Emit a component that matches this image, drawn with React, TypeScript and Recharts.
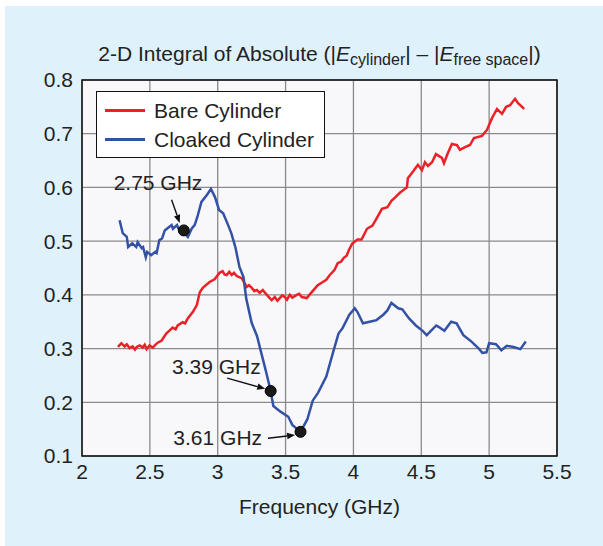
import React from 'react';
import {
  LineChart, Line, XAxis, YAxis, CartesianGrid, ReferenceArea,
  ReferenceDot, ReferenceLine, Legend,
} from 'recharts';

const bareFreq = [
  2.265, 2.29, 2.314, 2.33, 2.351, 2.373, 2.39, 2.403, 2.425, 2.447, 2.462, 2.476, 2.498, 2.521, 2.54,
  2.558, 2.587, 2.605, 2.624, 2.646, 2.668, 2.69, 2.705, 2.742, 2.76, 2.779, 2.816, 2.846, 2.868,
  2.89, 2.94, 2.977, 3.014, 3.036, 3.05, 3.066, 3.085, 3.103, 3.12, 3.14, 3.177, 3.214, 3.23, 3.251,
  3.27, 3.288, 3.31, 3.332, 3.362, 3.38, 3.398, 3.42, 3.44, 3.457, 3.475, 3.494, 3.51, 3.531, 3.55,
  3.582, 3.6, 3.619, 3.656, 3.693, 3.737, 3.774, 3.8, 3.826, 3.86, 3.884, 3.91, 3.929, 3.95, 3.966,
  3.99, 4.03, 4.06, 4.1, 4.14, 4.17, 4.21, 4.25, 4.28, 4.31, 4.342, 4.394, 4.401, 4.438, 4.475,
  4.505, 4.527, 4.549, 4.579, 4.608, 4.652, 4.667, 4.696, 4.726, 4.763, 4.785, 4.822, 4.859, 4.888,
  4.947, 4.984, 5.021, 5.058, 5.095, 5.125, 5.154, 5.191, 5.213, 5.243, 5.258,
];
const bareVal = [
  0.303, 0.31, 0.304, 0.308, 0.301, 0.304, 0.298, 0.303, 0.306, 0.302, 0.307, 0.299, 0.306, 0.302, 0.307,
  0.311, 0.315, 0.322, 0.329, 0.334, 0.339, 0.336, 0.343, 0.349, 0.347, 0.356, 0.368, 0.381, 0.405,
  0.413, 0.424, 0.429, 0.441, 0.444, 0.438, 0.437, 0.443, 0.437, 0.441, 0.435, 0.431, 0.415, 0.418, 0.413,
  0.407, 0.409, 0.404, 0.409, 0.4, 0.395, 0.39, 0.396, 0.389, 0.394, 0.399, 0.396, 0.391, 0.4, 0.395,
  0.4, 0.402, 0.396, 0.394, 0.405, 0.418, 0.424, 0.428, 0.437, 0.446, 0.459, 0.462, 0.469, 0.473, 0.483,
  0.495, 0.503, 0.503, 0.523, 0.529, 0.542, 0.56, 0.563, 0.575, 0.582, 0.59, 0.6, 0.617, 0.629, 0.642,
  0.632, 0.647, 0.64, 0.647, 0.662, 0.655, 0.645, 0.664, 0.681, 0.679, 0.67, 0.675, 0.679, 0.692,
  0.696, 0.707, 0.729, 0.746, 0.737, 0.75, 0.753, 0.765, 0.757, 0.75, 0.746,
];

const cloakFreq = [
  2.277, 2.3, 2.33, 2.34, 2.37, 2.4, 2.41, 2.44, 2.45, 2.47, 2.48, 2.51, 2.54, 2.55, 2.57, 2.59, 2.61,
  2.63, 2.66, 2.67, 2.7, 2.71, 2.74, 2.78, 2.81, 2.83, 2.85, 2.88, 2.92, 2.95, 2.98, 3.01, 3.04, 3.07,
  3.1, 3.13, 3.16, 3.19, 3.21, 3.25, 3.29, 3.32, 3.36, 3.39, 3.41, 3.46, 3.52, 3.55, 3.61, 3.66, 3.7,
  3.74, 3.8, 3.85, 3.89, 3.92, 3.97, 4.01, 4.03, 4.07, 4.12, 4.17, 4.22, 4.25, 4.28, 4.33, 4.36, 4.41,
  4.46, 4.51, 4.54, 4.61, 4.63, 4.67, 4.72, 4.76, 4.81, 4.87, 4.92, 4.95, 4.98, 5.0, 5.05, 5.09, 5.13,
  5.18, 5.23, 5.27,
];
const cloakVal = [
  0.539, 0.515, 0.508, 0.489, 0.496, 0.489, 0.498, 0.487, 0.489, 0.47, 0.48, 0.474, 0.48, 0.478, 0.502,
  0.505, 0.52, 0.524, 0.53, 0.523, 0.53, 0.524, 0.52, 0.508, 0.524, 0.53, 0.545, 0.573, 0.586, 0.597,
  0.582, 0.558, 0.552, 0.534, 0.515, 0.489, 0.452, 0.433, 0.393, 0.348, 0.323, 0.293, 0.253, 0.221,
  0.193, 0.183, 0.173, 0.158, 0.145, 0.168, 0.203, 0.218, 0.248, 0.293, 0.328, 0.338, 0.363, 0.375,
  0.368, 0.347, 0.35, 0.353, 0.363, 0.371, 0.385, 0.375, 0.373, 0.356, 0.343, 0.333, 0.325, 0.343,
  0.34, 0.333, 0.35, 0.347, 0.325, 0.313, 0.301, 0.292, 0.293, 0.31, 0.308, 0.297, 0.305, 0.303,
  0.299, 0.313,
];

const xTicks = [2, 2.5, 3, 3.5, 4, 4.5, 5, 5.5];
const yTicks = [0.1, 0.2, 0.3, 0.4, 0.5, 0.6, 0.7, 0.8];

const markerFreq = [2.75, 3.39, 3.61];
const markerVal = [0.52, 0.221, 0.145];
const markerText = ['2.75 GHz', '3.39 GHz', '3.61 GHz'];
const labelFreq = [2.56, 2.99, 3.0];
const labelVal = [0.61, 0.266, 0.135];
const arrowFromFreq = [2.66, 3.07, 3.37];
const arrowFromVal = [0.577, 0.245, 0.133];
const arrowToFreq = [2.72, 3.35, 3.57];
const arrowToVal = [0.534, 0.225, 0.139];

const seriesNames = ['Bare Cylinder', 'Cloaked Cylinder'];
const RED = '#ec2027';
const BLUE = '#3352a6';
const FONT = '"Liberation Sans", Arial, Helvetica, sans-serif';
const FS = 21;

const bareData = bareFreq.map((f, i) => ({ f, v: bareVal[i] }));
const cloakData = cloakFreq.map((f, i) => ({ f, v: cloakVal[i] }));

const Arrow = (p: any) => {
  const { x1, y1, x2, y2 } = p;
  const dx = x2 - x1;
  const dy = y2 - y1;
  const len = Math.sqrt(dx * dx + dy * dy) || 1;
  const ux = dx / len;
  const uy = dy / len;
  const hl = 8;
  const hw = 3.2;
  const bx = x2 - ux * hl;
  const by = y2 - uy * hl;
  const pts = `${x2},${y2} ${bx - uy * hw},${by + ux * hw} ${bx + uy * hw},${by - ux * hw}`;
  return (
    <g>
      <line x1={x1} y1={y1} x2={bx} y2={by} stroke="#111" strokeWidth={1.4} />
      <polygon points={pts} fill="#111" />
    </g>
  );
};

const LegendBox = (props: any) => {
  const payload = props.payload || [];
  return (
    <div
      style={{
        width: 229,
        height: 67,
        border: '1.5px solid #111',
        background: '#fff',
        boxSizing: 'border-box',
        fontFamily: FONT,
        fontSize: FS,
        color: '#222',
        paddingTop: 4,
      }}
    >
      {payload.map((e: any, i: number) => (
        <div key={i} style={{ display: 'flex', alignItems: 'center', height: 29 }}>
          <div style={{ width: 40, height: 2.5, background: e.color, marginLeft: 8, marginRight: 9 }} />
          <span style={{ whiteSpace: 'nowrap' }}>{e.value}</span>
        </div>
      ))}
    </div>
  );
};

export default function App() {
  return (
    <div style={{ position: 'absolute', left: 0, top: 0, width: 603, height: 546, background: '#fff' }}>
      <div style={{ position: 'absolute', left: 5, top: 6, width: 598, height: 540, background: '#dff1fb' }} />
      <div style={{ position: 'absolute', left: 0, top: 0 }}>
        <LineChart width={603} height={546} margin={{ top: 80, right: 46, bottom: 50, left: 0 }}>
          <CartesianGrid
            fill="#f8f7fa"
            stroke="#8a8a8a"
            strokeWidth={1.3}
            horizontalValues={yTicks}
            verticalValues={xTicks}
          />
          <XAxis
            type="number"
            dataKey="f"
            domain={[2, 5.5]}
            ticks={xTicks}
            interval={0}
            allowDataOverflow
            height={40}
            axisLine={false}
            tickLine={false}
            tickSize={0}
            tickMargin={8}
            tick={{ fill: '#222', fontSize: FS, fontFamily: FONT }}
          />
          <YAxis
            type="number"
            domain={[0.1, 0.8]}
            ticks={yTicks}
            interval={0}
            allowDataOverflow
            width={82}
            axisLine={false}
            tickLine={false}
            tickSize={0}
            tickMargin={9}
            tickFormatter={(v: number) => v.toFixed(1)}
            tick={{ fill: '#222', fontSize: FS, fontFamily: FONT }}
          />
          <Line
            data={bareData}
            dataKey="v"
            name={seriesNames[0]}
            stroke={RED}
            strokeWidth={2.5}
            dot={false}
            type="linear"
            isAnimationActive={false}
          />
          <Line
            data={cloakData}
            dataKey="v"
            name={seriesNames[1]}
            stroke={BLUE}
            strokeWidth={2.5}
            dot={false}
            type="linear"
            isAnimationActive={false}
          />
          <ReferenceArea x1={2} x2={5.5} y1={0.1} y2={0.8} fill="none" fillOpacity={0} stroke="#111" strokeWidth={1.5} />
          {markerFreq.map((f, i) => (
            <ReferenceLine
              key={'a' + i}
              segment={[
                { x: arrowFromFreq[i], y: arrowFromVal[i] },
                { x: arrowToFreq[i], y: arrowToVal[i] },
              ]}
              shape={Arrow}
            />
          ))}
          {markerFreq.map((f, i) => (
            <ReferenceDot key={'d' + i} x={f} y={markerVal[i]} r={5.5} fill="#1a1a1a" stroke="#000" strokeWidth={1} />
          ))}
          {markerText.map((t, i) => (
            <ReferenceDot
              key={'t' + i}
              x={labelFreq[i]}
              y={labelVal[i]}
              r={1}
              shape={(p: any) => (
                <text
                  x={p.cx}
                  y={p.cy}
                  textAnchor="middle"
                  dominantBaseline="central"
                  fontSize={FS}
                  fontFamily={FONT}
                  fill="#222"
                >
                  {t}
                </text>
              )}
            />
          ))}
          <Legend
            layout="vertical"
            align="center"
            verticalAlign="middle"
            content={LegendBox}
            wrapperStyle={{ left: 96, top: 91, width: 229, height: 67 }}
          />
        </LineChart>
      </div>
      <div
        style={{
          position: 'absolute',
          left: 82,
          width: 475,
          top: 42,
          textAlign: 'center',
          fontFamily: FONT,
          fontSize: 21,
          color: '#222',
          whiteSpace: 'nowrap',
          lineHeight: '24px',
        }}
      >
        2-D Integral of Absolute (|<i>E</i>
        <span style={{ fontSize: 16, position: 'relative', top: 4 }}>cylinder</span>| – |<i>E</i>
        <span style={{ fontSize: 16, position: 'relative', top: 4 }}>free space</span>|)
      </div>
      <div
        style={{
          position: 'absolute',
          left: 82,
          width: 475,
          top: 494,
          textAlign: 'center',
          fontFamily: FONT,
          fontSize: FS,
          color: '#222',
          lineHeight: '26px',
        }}
      >
        Frequency (GHz)
      </div>
    </div>
  );
}
